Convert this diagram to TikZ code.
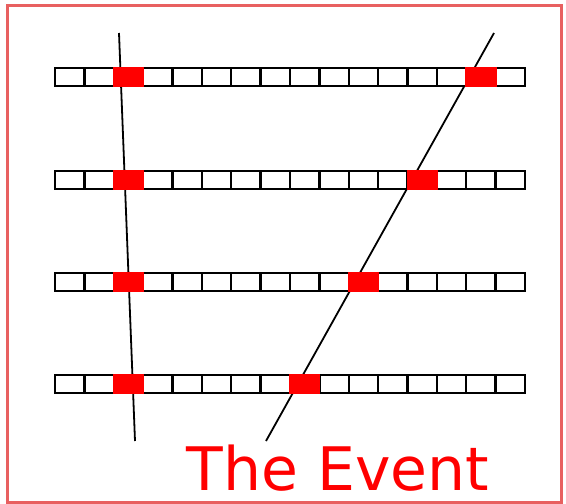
\documentclass[tikz,border=0pt]{standalone}
\usepackage{fontspec}
\newfontfamily\eventfont{DejaVu Sans}
\definecolor{frame}{RGB}{232,96,96}
\definecolor{hit}{RGB}{255,0,0}
\begin{document}
\begin{tikzpicture}[x=1pt,y=-1pt,
  cellbox/.style={draw=black,line width=2.4pt,fill=white},
  hitbox/.style={fill=hit},
  track/.style={draw=black,line width=1.8pt},
  border/.style={draw=frame,line width=3pt}]
\useasboundingbox (0,0) rectangle (566,504);
\draw[border] (7,5) rectangle (561,502);
% tracks
\coordinate (a1) at (119,33);
\coordinate (a2) at (135,441);
\coordinate (b1) at (494,33);
\coordinate (b2) at (266,441);
\draw[track] (a1) -- (a2);
\draw[track] (b1) -- (b2);
% strips
\foreach \r/\yc/\h in {1/77/14, 2/180/12, 3/282/10, 4/384/8}{
  \foreach \i in {0,...,15}{
    \draw[cellbox] ({55+\i*29.375},{\yc-9}) rectangle ({55+(\i+1)*29.375},{\yc+9});
  }
  \fill[hitbox] ({55+2*29.375-1},{\yc-10}) rectangle ({55+3*29.375+1},{\yc+10});
  \fill[hitbox] ({55+\h*29.375-1},{\yc-10}) rectangle ({55+(\h+1)*29.375+1},{\yc+10});
}
\node[anchor=base,text=hit,inner sep=0pt,font=\eventfont\fontsize{60}{70}\selectfont] (title) at (338,490) {The Event};
\end{tikzpicture}
\end{document}
